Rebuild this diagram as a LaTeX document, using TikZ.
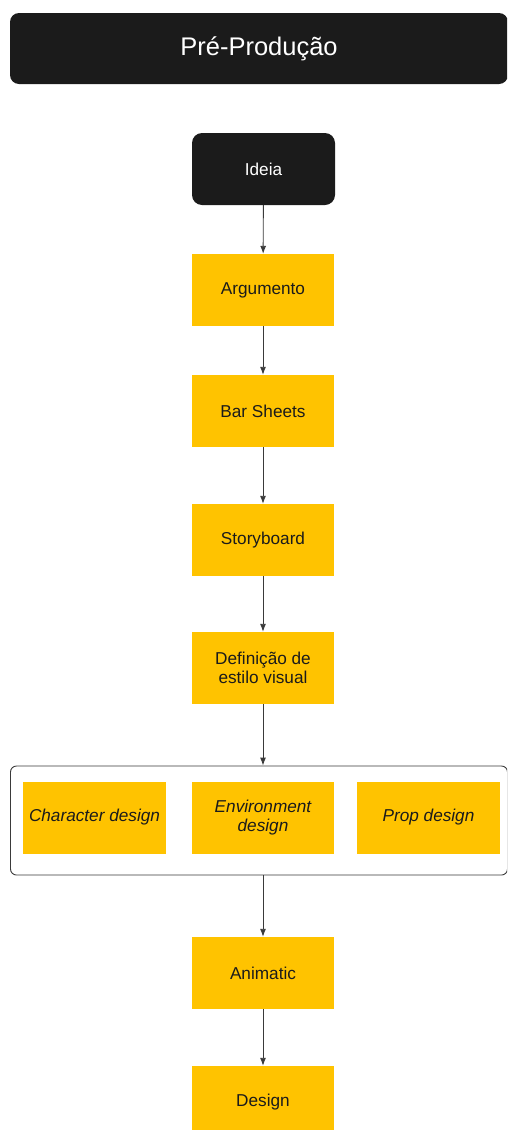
\documentclass[tikz,border=0pt]{standalone}
\usepackage{fontspec}
\setmainfont{Liberation Sans}
\usetikzlibrary{arrows.meta}
\definecolor{ink}{HTML}{1B1B1B}
\definecolor{amber}{HTML}{FFC300}
\definecolor{wire}{HTML}{3A3A3A}
\tikzset{
  stepbox/.style={fill=amber, minimum width=142pt, minimum height=72pt, inner sep=0pt,
    align=center, font=\fontsize{17.2}{19.5}\selectfont, text=ink},
  darkbox/.style={fill=ink, rounded corners=10pt, minimum width=143pt, minimum height=72pt,
    inner sep=0pt, text=white, font=\fontsize{17.2}{19.5}\selectfont},
  flow/.style={draw=wire, line width=0.9pt, -{Latex[length=8pt,width=6pt]}},
  italicbox/.style={stepbox, font=\itshape\fontsize{17.2}{19.5}\selectfont},
}
\begin{document}
\begin{tikzpicture}[x=1pt,y=-1pt]
\useasboundingbox (0,0) rectangle (507,1130);
\clip (0,0) rectangle (507,1130);
% title banner
\node[fill=ink, rounded corners=9pt, minimum width=498pt, minimum height=71pt, inner sep=0pt,
  text=white, font=\fontsize{25.5}{30}\selectfont] (title) at (259,48.5) {Pré-Produção};
% main chain
\node[darkbox] (ideia) at (263.5,169) {Ideia};
\node[stepbox] (arg) at (263,290) {Argumento};
\node[stepbox] (bar) at (263,411) {Bar Sheets};
\node[stepbox] (story) at (263,540) {Storyboard};
\node[stepbox] (estilo) at (263,668) {Definição de\\estilo visual};
% design group
\node[draw=wire, line width=0.9pt, rounded corners=6pt, minimum width=497pt, minimum height=109pt,
  inner sep=0pt] (grupo) at (259,820.5) {};
\node[italicbox, minimum width=143pt] (char) at (94.5,817.5) {Character design};
\node[italicbox] (env) at (263,817.5) {Environment\\design};
\node[italicbox, minimum width=143pt] (prop) at (428.5,817.5) {Prop design};
\node[stepbox] (anim) at (263,973) {Animatic};
\node[stepbox] (design) at (263,1102) {Design};
% connectors
\draw[flow] (ideia) -- (arg);
\draw[flow] (arg) -- (bar);
\draw[flow] (bar) -- (story);
\draw[flow] (story) -- (estilo);
\draw[flow] (estilo.south) -- (estilo.south |- grupo.north);
\draw[flow] (anim.north |- grupo.south) -- (anim.north);
\draw[flow] (anim) -- (design);
\end{tikzpicture}
\end{document}
